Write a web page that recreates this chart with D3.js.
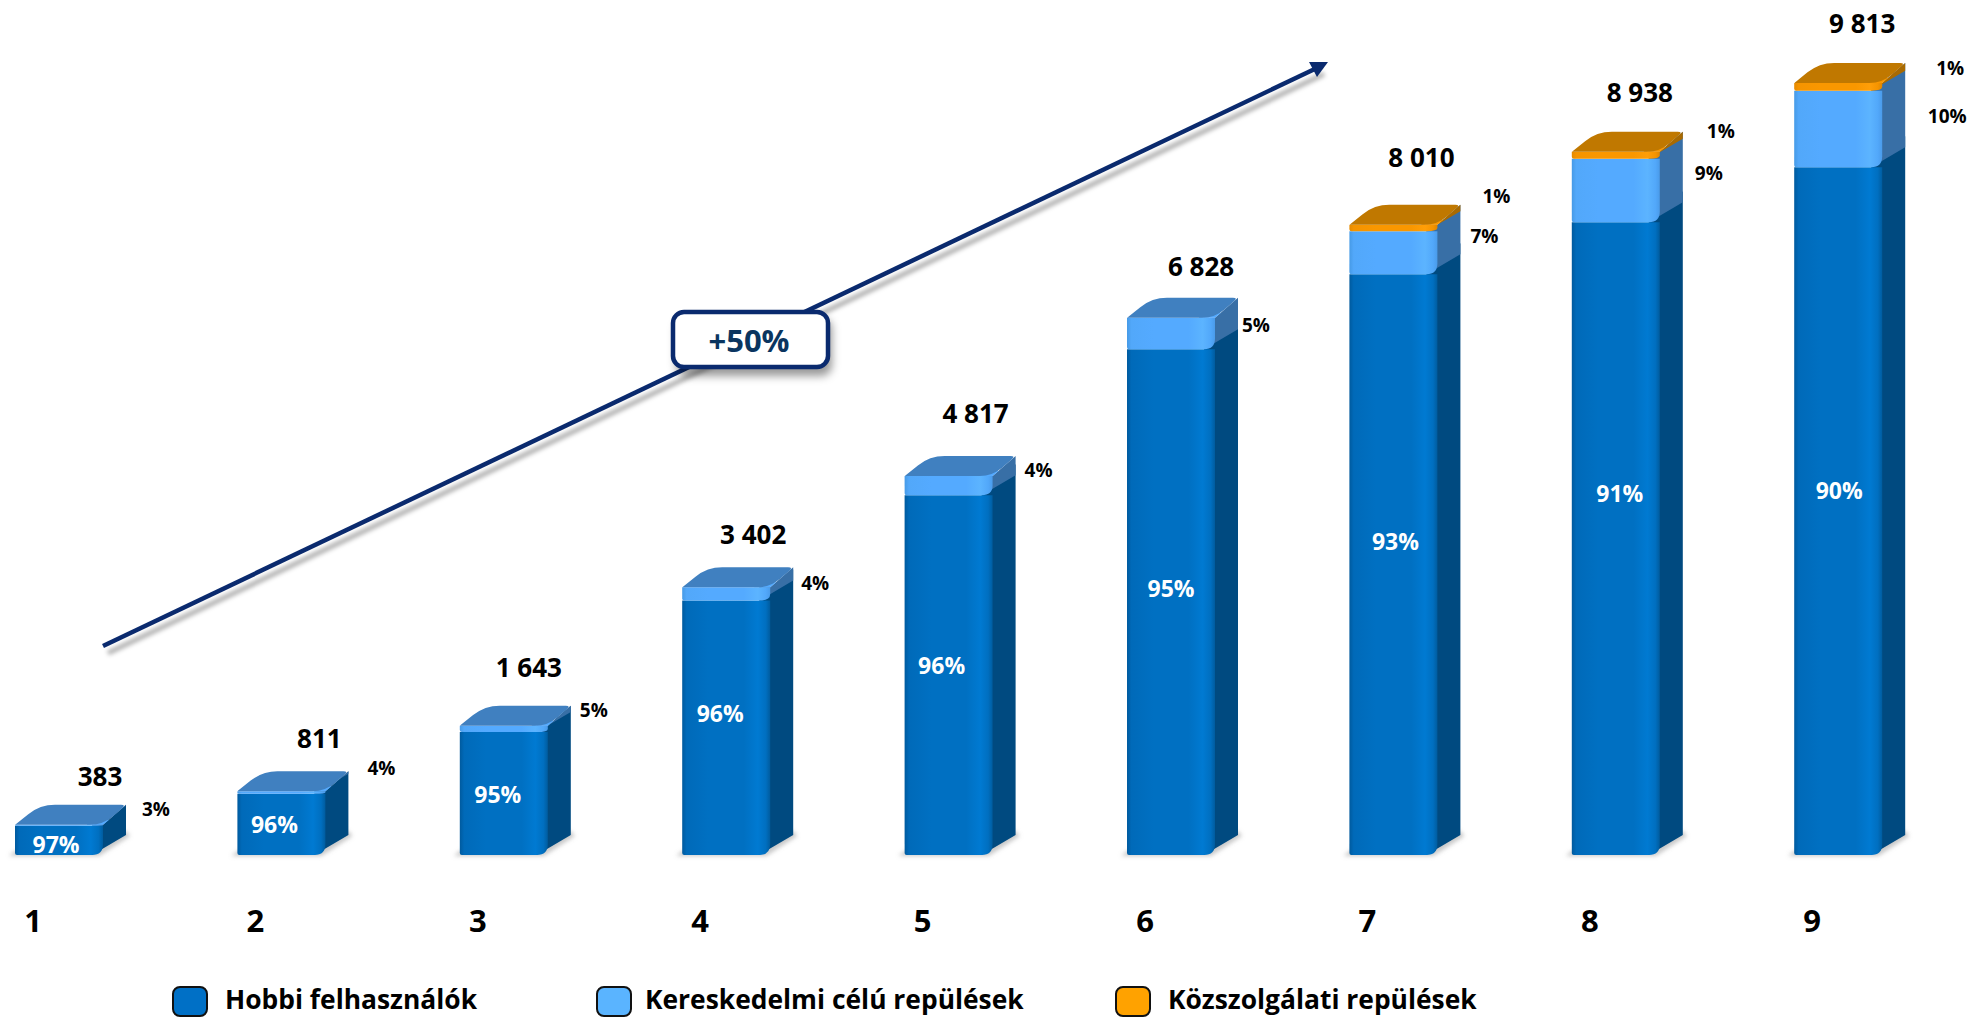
<!DOCTYPE html>
<html>
<head>
<meta charset="utf-8">
<script src="https://cdn.jsdelivr.net/npm/d3@7"></script>
<style>
  html, body { margin: 0; padding: 0; background: #fff; overflow: hidden; }
  text { font-family: "Open Sans", Lato, sans-serif; font-weight: 700; }
</style>
</head>
<body>
<div id="vis"></div>
<script>
// data
var categories = ["1", "2", "3", "4", "5", "6", "7", "8", "9"];
var totals = [383, 811, 1643, 3402, 4817, 6828, 8010, 8938, 9813];
var hobbi = [372, 779, 1563, 3234, 4574, 6430, 7382, 8043, 8742];
var kereskedelmi = [11, 32, 80, 168, 243, 398, 548, 806, 973];
var kozszolgalati = [0, 0, 0, 0, 0, 0, 80, 89, 98];
var hobbiPct = [97, 96, 95, 96, 96, 95, 93, 91, 90];
var kereskedelmiPct = [3, 4, 5, 4, 4, 5, 7, 9, 10];
var kozszolgalatiPct = [0, 0, 0, 0, 0, 0, 1, 1, 1];
var legendLabels = ["Hobbi felhasználók", "Kereskedelmi célú repülések", "Közszolgálati repülések"];

// hand placed label offsets, the original labels were moved around by hand
var totalDx = [85, 82, 69, 71, 71, 74, 72, 68, 68];
var totalDy = [-49, -53, -59, -53, -63, -52, -68, -60, -60];
var hobbiDx = [-3, -7, -6, -6, -7, 0, 2, 4, 1];
var hobbiDy = [4, 0, 0, -15, -10, -14, -24, -46, -21];
var kerDx = [141, 144, 134, 133, 134, 129, 135, 137, 153];
var kerDy = [-16, -23, -16, -4, -6, 7, 11, 21, 33];
var kozDx = [0, 0, 0, 0, 0, 0, 147, 149, 156];
var kozDy = [0, 0, 0, 0, 0, 0, -29, -21, -15];

var width = 1970, height = 1018;
var barW = 88, depthX = 23, depthY = 20, cornerR = 11;

var palette = [
  { id: "hobbi", stops: ["#005a9e", "#006ab9", "#0070c2", "#0070c2", "#007ad2", "#006fc0", "#005c9f"], side: "#004a80", top: "#4080c0", rim: "#0070c2", legend: "#0070c6" },
  { id: "ker", stops: ["#469ae6", "#52a8fa", "#54aaff", "#54aaff", "#5cb4ff", "#52a8fa", "#4a9bea"], side: "#386fa6", top: "#4080c0", rim: "#54aaff", legend: "#5ab4ff" },
  { id: "koz", stops: ["#e58a00", "#f59400", "#f99700", "#f99700", "#ff9e08", "#f59400", "#e08600"], side: "#a96a00", top: "#c07800", rim: "#f99700", legend: "#ffa200" }
];
var stopAt = [0, 0.05, 0.3, 0.7, 0.86, 0.95, 1];

var x = d3.scaleBand().domain(categories).range([15, 15 + 222.4 * 9]).padding(0).align(0);
var y = d3.scaleLinear().domain([0, 9813]).range([855, 83]);

var rows = categories.map(function(c, i) {
  return { cat: c, hobbi: hobbi[i], ker: kereskedelmi[i], koz: kozszolgalati[i], i: i };
});
var stack = d3.stack().keys(["hobbi", "ker", "koz"])(rows);

var fmt = d3.formatLocale({ decimal: ",", thousands: " ", grouping: [3], currency: ["", ""] }).format(",d");

var svg = d3.select("#vis").append("svg").attr("width", width).attr("height", height);
var defs = svg.append("defs");

palette.forEach(function(p) {
  var g = defs.append("linearGradient").attr("id", "grad-" + p.id);
  p.stops.forEach(function(s, k) {
    g.append("stop").attr("offset", stopAt[k]).attr("stop-color", s);
  });
});
defs.append("filter").attr("id", "blur2").attr("x", "-20%").attr("y", "-50%").attr("width", "140%").attr("height", "200%")
  .append("feGaussianBlur").attr("stdDeviation", 2);
defs.append("filter").attr("id", "blur4").attr("x", "-10%").attr("y", "-30%").attr("width", "120%").attr("height", "160%")
  .append("feGaussianBlur").attr("stdDeviation", 4);

// polygon with rounded corners, radii go with the points
function roundPoly(pts, radii) {
  var p = d3.path(), n = pts.length;
  pts.forEach(function(pt, i) {
    var prev = pts[(i + n - 1) % n], next = pts[(i + 1) % n], r = radii[i];
    var a = Math.hypot(prev[0] - pt[0], prev[1] - pt[1]), b = Math.hypot(next[0] - pt[0], next[1] - pt[1]);
    var r1 = Math.min(r, a / 2), r2 = Math.min(r, b / 2);
    var sx = pt[0] + (prev[0] - pt[0]) * r1 / a, sy = pt[1] + (prev[1] - pt[1]) * r1 / a;
    var ex = pt[0] + (next[0] - pt[0]) * r2 / b, ey = pt[1] + (next[1] - pt[1]) * r2 / b;
    if (i === 0) p.moveTo(sx, sy); else p.lineTo(sx, sy);
    p.quadraticCurveTo(pt[0], pt[1], ex, ey);
  });
  p.closePath();
  return p.toString();
}

// arrow behind the box
var arrowFrom = [103, 646], arrowTo = [1319, 67];
var headPts = [[1309, 62], [1328, 62], [1317, 77]];
var arrow = svg.append("g");
arrow.append("line").attr("x1", arrowFrom[0] + 5).attr("y1", arrowFrom[1] + 7).attr("x2", arrowTo[0] + 5).attr("y2", arrowTo[1] + 7)
  .attr("stroke", "#000").attr("stroke-opacity", 0.3).attr("stroke-width", 5).attr("filter", "url(#blur2)");
arrow.append("line").attr("x1", arrowFrom[0]).attr("y1", arrowFrom[1]).attr("x2", arrowTo[0]).attr("y2", arrowTo[1])
  .attr("stroke", "#0a2a6e").attr("stroke-width", 4.5);
arrow.append("polygon").attr("points", headPts.join(" ")).attr("fill", "#0a2a6e");

// bars
var bars = svg.selectAll("g.bar").data(rows).enter().append("g").attr("class", "bar");

bars.append("path")
  .attr("d", function(d) {
    var bx = x(d.cat), by = y(0);
    return "M" + (bx - 6) + "," + (by + 1) + "L" + (bx + barW - 4) + "," + (by + 1) +
      "L" + (bx + barW + depthX + 4) + "," + (by - depthY + 1) + "L" + (bx + barW + depthX) + "," + (by - depthY - 4) + "L" + bx + "," + (by - 4) + "Z";
  })
  .attr("fill", "#9a9a9a").attr("fill-opacity", 0.55).attr("filter", "url(#blur2)");

stack.forEach(function(layer, k) {
  var p = palette[k];
  bars.each(function(d, i) {
    var seg = layer[i];
    if (seg[1] <= seg[0]) return;
    var g = d3.select(this), bx = x(d.cat), yb = y(seg[0]), yt = y(seg[1]);
    var right = bx + barW;
    // the side runs up past its segment so the next one's rounded edge has no gap under it
    var ySide = k < 2 ? Math.max(yt - cornerR, y(totals[i])) : yt;
    g.append("path")
      .attr("d", "M" + (right - cornerR) + "," + yb + "L" + (right + depthX) + "," + (yb - depthY) +
        "L" + (right + depthX) + "," + (ySide - depthY) + "L" + right + "," + ySide + "L" + (right - cornerR) + "," + ySide + "Z")
      .attr("fill", p.side);
    g.append("path")
      .attr("d", roundPoly([[bx, yt], [right, yt], [right, yb], [bx, yb]], [0, 0, cornerR, 2]))
      .attr("fill", "url(#grad-" + p.id + ")");
  });
});

// top faces take the tone of the top segment, the rim fills the rounded front corner
function topPts(d) {
  var bx = x(d.cat), yt = y(d.hobbi + d.ker + d.koz);
  return [[bx, yt], [bx + depthX + 2, yt - depthY], [bx + barW + depthX, yt - depthY], [bx + barW, yt]];
}
bars.append("path")
  .attr("d", function(d) {
    var pts = topPts(d);
    return "M" + (pts[3][0] - 16) + "," + pts[3][1] + "L" + pts[3][0] + "," + pts[3][1] + "L" + (pts[3][0] + 6) + "," + (pts[3][1] - 5) + "L" + (pts[3][0] - 16) + "," + (pts[3][1] - 6) + "Z";
  })
  .attr("fill", function(d) { return d.koz > 0 ? palette[2].rim : palette[1].rim; });
bars.append("path")
  .attr("d", function(d) { return roundPoly(topPts(d), [1, 15, 5, 13]); })
  .attr("fill", function(d) { return d.koz > 0 ? palette[2].top : palette[1].top; });

function label(sel, size, fill) {
  return sel.attr("font-size", size).attr("fill", fill).attr("text-anchor", "middle").attr("dominant-baseline", "central");
}

// totals
label(svg.selectAll("text.total").data(rows).enter().append("text").attr("class", "total"), 26, "#000")
  .attr("x", function(d, i) { return x(d.cat) + totalDx[i]; })
  .attr("y", function(d, i) { return y(totals[i]) + totalDy[i]; })
  .text(function(d, i) { return fmt(totals[i]); });

// shares
label(svg.selectAll("text.hobbi").data(rows).enter().append("text").attr("class", "hobbi"), 23, "#fff")
  .attr("x", function(d, i) { return x(d.cat) + barW / 2 + hobbiDx[i]; })
  .attr("y", function(d, i) { return y(hobbi[i] / 2) + hobbiDy[i]; })
  .text(function(d, i) { return hobbiPct[i] + "%"; });

label(svg.selectAll("text.ker").data(rows).enter().append("text").attr("class", "ker"), 19, "#000")
  .attr("x", function(d, i) { return x(d.cat) + kerDx[i]; })
  .attr("y", function(d, i) { return y(totals[i]) + kerDy[i]; })
  .text(function(d, i) { return kereskedelmiPct[i] + "%"; });

label(svg.selectAll("text.koz").data(rows.filter(function(d) { return d.koz > 0; })).enter().append("text").attr("class", "koz"), 19, "#000")
  .attr("x", function(d) { return x(d.cat) + kozDx[d.i]; })
  .attr("y", function(d) { return y(totals[d.i]) + kozDy[d.i]; })
  .text(function(d) { return kozszolgalatiPct[d.i] + "%"; });

// category labels
svg.selectAll("text.cat").data(categories).enter().append("text").attr("class", "cat")
  .attr("x", function(d) { return x(d) + 18; })
  .attr("y", 932)
  .attr("font-size", 31).attr("fill", "#000").attr("text-anchor", "middle")
  .text(function(d) { return d; });

// +50% box
var box = svg.append("g");
box.append("rect").attr("x", 676).attr("y", 318).attr("width", 156).attr("height", 58).attr("rx", 11)
  .attr("fill", "#000").attr("fill-opacity", 0.4).attr("filter", "url(#blur4)");
box.append("rect").attr("x", 673).attr("y", 312).attr("width", 155).attr("height", 55).attr("rx", 11)
  .attr("fill", "#fff").attr("stroke", "#0a2a6e").attr("stroke-width", 4.5);
label(box.append("text"), 31, "#0a3560").attr("x", 749).attr("y", 340).text("+50%");

// legend
var legendX = [173, 597, 1116], legendTextX = [225, 645, 1168];
var legend = svg.selectAll("g.legend").data(legendLabels).enter().append("g").attr("class", "legend");
legend.append("rect")
  .attr("x", function(d, i) { return legendX[i]; })
  .attr("y", 987).attr("width", 34).attr("height", 29).attr("rx", 7)
  .attr("fill", function(d, i) { return palette[i].legend; })
  .attr("stroke", "#111").attr("stroke-width", 2);
legend.append("text")
  .attr("x", function(d, i) { return legendTextX[i]; })
  .attr("y", 1009).attr("font-size", 26.4).attr("fill", "#000")
  .text(function(d) { return d; });
</script>
</body>
</html>
